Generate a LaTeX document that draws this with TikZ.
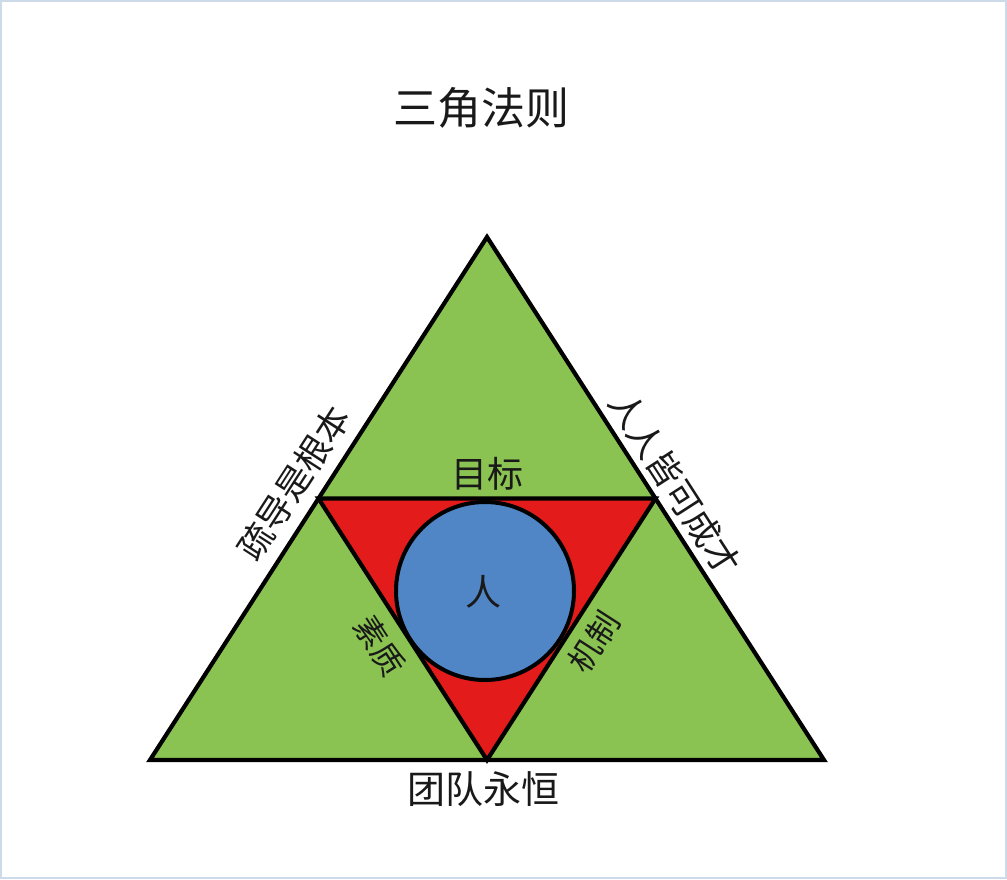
\documentclass[tikz,border=0pt]{standalone}
\usepackage{fontspec}
\usetikzlibrary{calc}
\newfontfamily\cjk{Noto Sans CJK SC}
\definecolor{tgreen}{RGB}{139,195,82}
\definecolor{tred}{RGB}{227,27,27}
\definecolor{tblue}{RGB}{81,134,198}
\definecolor{frame}{RGB}{205,218,232}
\tikzset{
  edge/.style={draw=black, line width=4.2pt, line join=miter},
  lbl/.style={inner sep=0pt, font=\cjk\fontsize{#1}{#1}\selectfont, text=black!90},
}
\begin{document}
\begin{tikzpicture}[x=1pt,y=-1pt]
\useasboundingbox (0,0) rectangle (1007,879);
\draw[frame, line width=2pt] (1,1) rectangle (1006,878);
% vertices
\coordinate (A) at (487,237);
\coordinate (B) at (150,760);
\coordinate (C) at (824,760);
\coordinate (L) at ($(A)!0.5!(B)$);
\coordinate (R) at ($(A)!0.5!(C)$);
\coordinate (M) at ($(B)!0.5!(C)$);
% big triangle
\fill[tgreen] (A) -- (B) -- (C) -- cycle;
% inner triangle
\path[edge, fill=tred] (L) -- (R) -- (M) -- cycle;
% circle
\node[circle, draw=black, line width=4pt, fill=tblue, minimum size=178pt, inner sep=0pt] (circ) at (485,591) {};
\draw[edge] (A) -- (B) -- (C) -- cycle;
% labels
\node[lbl=44] (title) at (481,108) {三角法则};
\node[lbl=36] (goal) at (487,474) {目标};
\node[lbl=36] (ren) at (483,592) {人};
\node[lbl=38] (team) at (483,789) {团队永恒};
\node[lbl=35, rotate=57.2] (lefttxt) at (294,483) {疏导是根本};
\node[lbl=35, rotate=-57.2] (righttxt) at (675,484) {人人皆可成才};
\node[lbl=32, rotate=-57.2] (suzhi) at (380,646) {素质};
\node[lbl=32, rotate=57.2] (jizhi) at (594,642) {机制};
\end{tikzpicture}
\end{document}
